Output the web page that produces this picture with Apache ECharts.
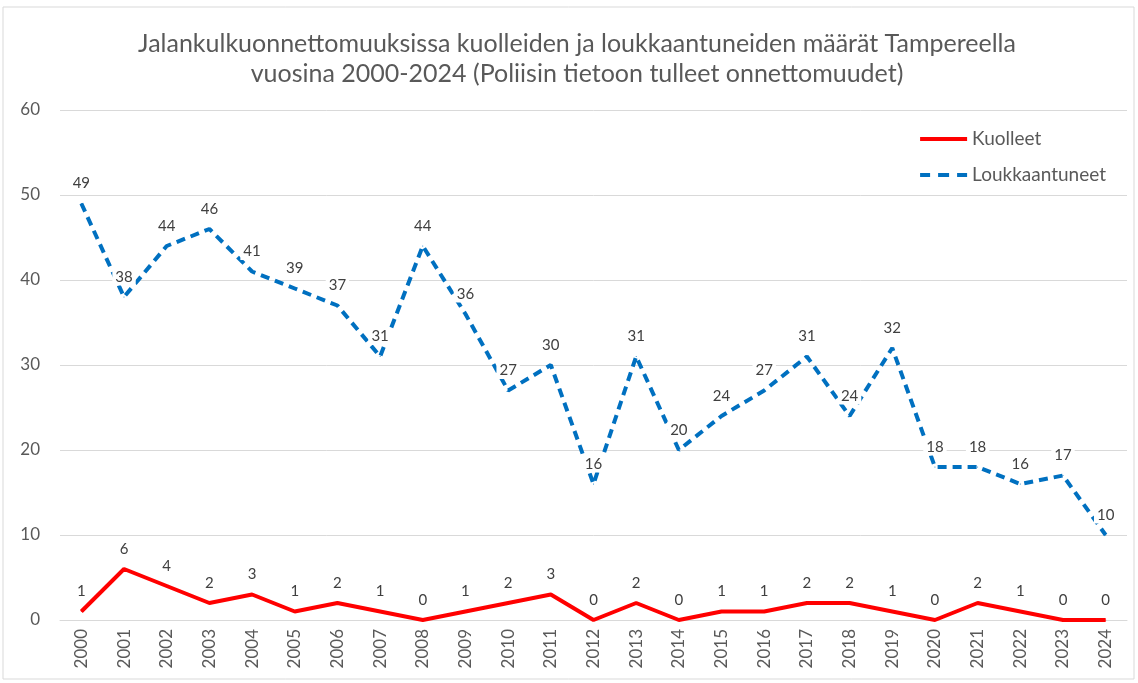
<!DOCTYPE html>
<html>
<head>
<meta charset="utf-8">
<script src="https://cdn.jsdelivr.net/npm/echarts@6/dist/echarts.min.js"></script>
<style>
  html, body { margin: 0; padding: 0; background: #fff; }
  #chart { width: 1138px; height: 683px; }
</style>
</head>
<body>
<div id="chart"></div>
<script>
const years = ["2000", "2001", "2002", "2003", "2004", "2005", "2006", "2007", "2008", "2009",
  "2010", "2011", "2012", "2013", "2014", "2015", "2016", "2017", "2018", "2019",
  "2020", "2021", "2022", "2023", "2024"];
const kuolleet = [1, 6, 4, 2, 3, 1, 2, 1, 0, 1, 2, 3, 0, 2, 0, 1, 1, 2, 2, 1, 0, 2, 1, 0, 0];
const loukkaantuneet = [49, 38, 44, 46, 41, 39, 37, 31, 44, 36, 27, 30, 16, 31, 20, 24, 27, 31, 24, 32, 18, 18, 16, 17, 10];

const font = "Lato";
const chart = echarts.init(document.getElementById("chart"));

const label = {
  show: true,
  position: "top",
  distance: 11,
  fontFamily: font,
  fontSize: 15,
  color: "#404040",
  backgroundColor: "#fff",
  padding: [1, 3],
};

const option = {
  animation: false,
  backgroundColor: "#fff",
  textStyle: { fontFamily: font },
  graphic: [
    {
      type: "rect",
      shape: { x: 3, y: 7, width: 1131, height: 672 },
      style: { fill: "none", stroke: "#d9d9d9", lineWidth: 1 },
      silent: true,
    },
  ],
  title: {
    text: "Jalankulkuonnettomuuksissa kuolleiden ja loukkaantuneiden määrät Tampereella\nvuosina 2000-2024 (Poliisin tietoon tulleet onnettomuudet)",
    left: 572,
    top: 24,
    textAlign: "center",
    textStyle: {
      fontFamily: font,
      fontSize: 25,
      fontWeight: "normal",
      color: "#595959",
      lineHeight: 30,
    },
  },
  legend: {
    right: 27,
    top: 123,
    orient: "vertical",
    itemGap: 14,
    itemWidth: 47,
    itemHeight: 4,
    textStyle: { fontFamily: font, fontSize: 19, color: "#595959", lineHeight: 22 },
    data: [
      { name: "Kuolleet", icon: "path://M0,0H47V4H0Z" },
      { name: "Loukkaantuneet", icon: "path://M0,0H10V4H0Z M18,0H29V4H18Z M37,0H47V4H37Z" },
    ],
  },
  grid: { left: 60, right: 11, top: 110, bottom: 63, containLabel: false },
  xAxis: {
    type: "category",
    data: years,
    boundaryGap: true,
    axisLine: { lineStyle: { color: "#d9d9d9", width: 1 } },
    axisTick: { show: false },
    axisLabel: {
      rotate: 90,
      interval: 0,
      fontFamily: font,
      fontSize: 17,
      color: "#595959",
      margin: 9,
    },
  },
  yAxis: {
    type: "value",
    min: 0,
    max: 60,
    interval: 10,
    axisLine: { show: false },
    axisTick: { show: false },
    splitLine: { lineStyle: { color: "#d9d9d9", width: 1 } },
    axisLabel: {
      fontFamily: font,
      fontSize: 17,
      color: "#595959",
      margin: 20,
    },
  },
  series: [
    {
      name: "Kuolleet",
      type: "line",
      data: kuolleet,
      symbol: "circle",
      symbolSize: 1,
      lineStyle: { color: "#ff0000", width: 4 },
      itemStyle: { color: "#ff0000" },
      label: label,
      z: 3,
    },
    {
      name: "Loukkaantuneet",
      type: "line",
      data: loukkaantuneet,
      symbol: "circle",
      symbolSize: 1,
      lineStyle: { color: "#0070c0", width: 4, type: [9, 6] },
      itemStyle: { color: "#0070c0" },
      label: label,
      z: 2,
    },
  ],
};

chart.setOption(option);
window.addEventListener("resize", () => chart.resize());
</script>
</body>
</html>
